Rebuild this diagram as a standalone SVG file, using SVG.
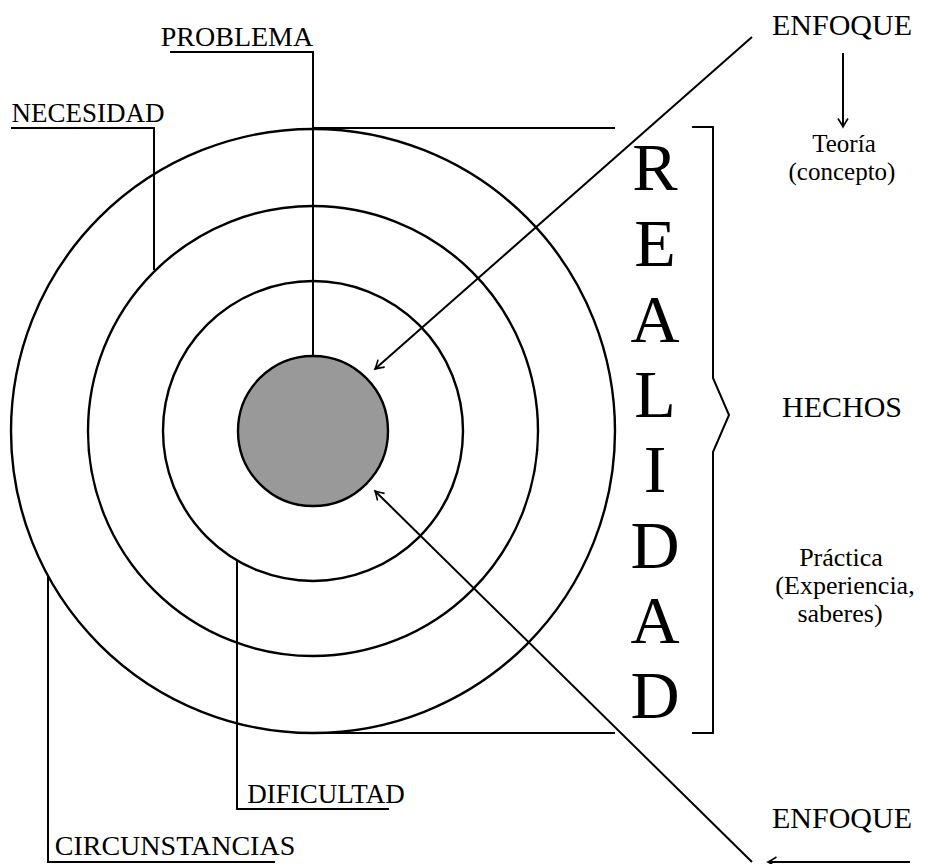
<svg xmlns="http://www.w3.org/2000/svg" width="931" height="864" viewBox="0 0 931 864">
<defs>
  <marker id="arr" viewBox="-10 -6 12 12" refX="0" refY="0" markerWidth="12" markerHeight="12" orient="auto" markerUnits="userSpaceOnUse">
    <path d="M-8.5,-5 Q-2.5,-1.2 0,0 Q-2.5,1.2 -8.5,5" fill="none" stroke="#000" stroke-width="1.6"/>
  </marker>
</defs>
<rect width="931" height="864" fill="#fff"/>

<g id="rings" fill="none" stroke="#000" stroke-width="2.4">
  <circle id="c1" cx="313" cy="431" r="302"/>
  <circle id="c2" cx="313" cy="431" r="225"/>
  <circle id="c3" cx="313" cy="431" r="150"/>
  <circle id="core" cx="313" cy="431" r="75" fill="#999999"/>
</g>

<g id="connectors" fill="none" stroke="#000" stroke-width="2">
  <polyline points="170,52 313,52 313,356"/>
  <polyline points="11,128 154,128 154,270"/>
  <polyline points="237,560 237,809 389,809"/>
  <polyline points="48,576 48,862 275,862"/>
  <line x1="313" y1="128" x2="615" y2="128"/>
  <line x1="313" y1="733" x2="615" y2="733"/>
  <path d="M692,127 H713 V378 L729,415 L713,452 V733 H692"/>
  <line x1="752" y1="37" x2="375" y2="369" marker-end="url(#arr)"/>
  <line x1="843" y1="53" x2="843" y2="127" marker-end="url(#arr)"/>
  <line x1="752" y1="862" x2="375" y2="491" marker-end="url(#arr)"/>
  <line x1="910" y1="862" x2="768" y2="862" marker-end="url(#arr)"/>
</g>

<g font-family="Liberation Serif" font-size="28" fill="#000">
<g id="problema"><text x="237" y="46" text-anchor="middle">PROBLEMA</text></g>
<g id="necesidad"><text x="88" y="122" text-anchor="middle" font-size="27">NECESIDAD</text></g>
<g id="dificultad"><text x="326" y="803" text-anchor="middle" font-size="27">DIFICULTAD</text></g>
<g id="circunstancias"><text x="175" y="855" text-anchor="middle">CIRCUNSTANCIAS</text></g>
<g id="enfoque-top"><text x="842" y="35" text-anchor="middle" font-size="30">ENFOQUE</text></g>
<g id="enfoque-bottom"><text x="842" y="828" text-anchor="middle" font-size="30">ENFOQUE</text></g>
<g id="teoria" font-size="25" text-anchor="middle">
  <text x="844" y="152">Teoría</text>
  <text x="842" y="180">(concepto)</text>
</g>
<g id="hechos" text-anchor="middle" font-size="30"><text x="842" y="417">HECHOS</text></g>
<g id="practica" font-size="26" text-anchor="middle">
  <text x="841" y="566">Práctica</text>
  <text x="845" y="594">(Experiencia,</text>
  <text x="840" y="622">saberes)</text>
</g>
<g id="realidad" font-size="68" text-anchor="middle">
  <text x="655" y="190">R</text>
  <text x="655" y="266">E</text>
  <text x="655" y="342">A</text>
  <text x="655" y="417">L</text>
  <text x="655" y="492">I</text>
  <text x="655" y="568">D</text>
  <text x="655" y="643">A</text>
  <text x="655" y="718">D</text>
</g>
</g>
</svg>
